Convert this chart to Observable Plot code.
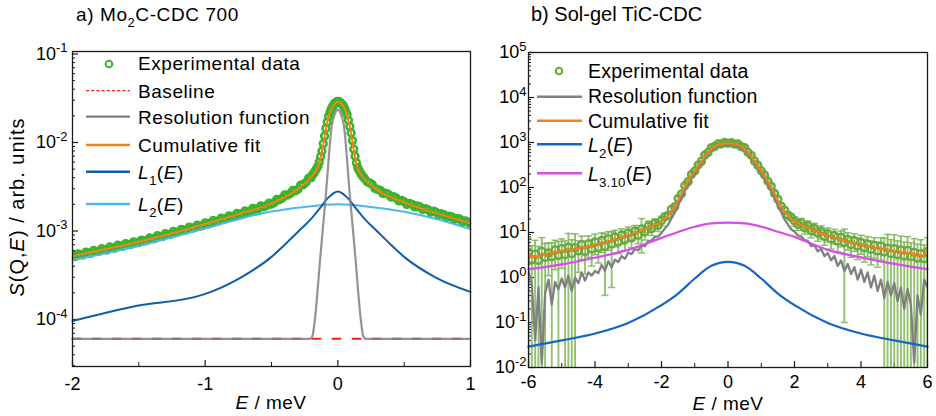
<!DOCTYPE html>
<html><head><meta charset="utf-8">
<script src="https://cdn.jsdelivr.net/npm/d3@7"></script>
<script src="https://cdn.jsdelivr.net/npm/@observablehq/plot@0.6"></script>
<style>
html,body{margin:0;padding:0;background:#fff;}
#wrap{position:relative;width:936px;height:416px;overflow:hidden;background:#fff;}
</style></head><body><div id="wrap"></div>
<script>
// ---------------- Panel a) Mo2C-CDC 700 ----------------
const xTicksA = [-2, -1, 0, 1];
const xMinorA = [-1.5, -0.5, 0.5];
const yTicksA = [1e-4, 1e-3, 1e-2, 1e-1];

const expE_A = [
-2,-1.98,-1.96,-1.94,-1.92,-1.9,-1.88,-1.86,-1.84,-1.82,
-1.8,-1.78,-1.76,-1.74,-1.72,-1.7,-1.68,-1.66,-1.64,-1.62,
-1.6,-1.58,-1.56,-1.54,-1.52,-1.5,-1.48,-1.46,-1.44,-1.42,
-1.4,-1.38,-1.36,-1.34,-1.32,-1.3,-1.28,-1.26,-1.24,-1.22,
-1.2,-1.18,-1.16,-1.14,-1.12,-1.1,-1.08,-1.06,-1.04,-1.02,
-1,-0.98,-0.96,-0.94,-0.92,-0.9,-0.88,-0.86,-0.84,-0.82,
-0.8,-0.78,-0.76,-0.74,-0.72,-0.7,-0.68,-0.66,-0.64,-0.62,
-0.6,-0.58,-0.56,-0.54,-0.52,-0.5,-0.48,-0.46,-0.44,-0.42,
-0.4,-0.38,-0.36,-0.34,-0.32,-0.3,-0.28,-0.26,-0.24,-0.22,
-0.2,
-0.19,-0.18,-0.17,-0.16,-0.15,-0.14,-0.13,-0.12,-0.11,-0.1,
-0.09,-0.08,-0.07,-0.06,-0.05,-0.04,-0.03,-0.02,-0.01,0,
0.01,0.02,0.03,0.04,0.05,0.06,0.07,0.08,0.09,0.1,
0.11,0.12,0.13,0.14,0.15,0.16,0.17,0.18,0.19,
0.2,0.22,0.24,0.26,0.28,0.3,0.32,0.34,0.36,0.38,
0.4,0.42,0.44,0.46,0.48,0.5,0.52,0.54,0.56,0.58,
0.6,0.62,0.64,0.66,0.68,0.7,0.72,0.74,0.76,0.78,
0.8,0.82,0.84,0.86,0.88,0.9,0.92,0.94,0.96,0.98,
1];
const expS_A = [
5.3e-4,5.15e-4,5.5e-4,5.4e-4,5.35e-4,5.75e-4,5.65e-4,5.6e-4,6.05e-4,5.85e-4,
5.9e-4,6.3e-4,6.15e-4,6.1e-4,6.6e-4,6.45e-4,6.4e-4,6.9e-4,6.75e-4,6.7e-4,
7.2e-4,7.0e-4,7.05e-4,7.55e-4,7.35e-4,7.4e-4,7.9e-4,7.7e-4,7.8e-4,8.35e-4,
8.15e-4,8.2e-4,8.85e-4,8.6e-4,8.7e-4,9.35e-4,9.1e-4,9.2e-4,9.9e-4,9.6e-4,
9.75e-4,1.045e-3,1.015e-3,1.03e-3,1.105e-3,1.07e-3,1.09e-3,1.165e-3,1.13e-3,1.15e-3,
1.235e-3,1.2e-3,1.225e-3,1.315e-3,1.275e-3,1.3e-3,1.395e-3,1.355e-3,1.385e-3,1.485e-3,
1.44e-3,1.47e-3,1.58e-3,1.535e-3,1.57e-3,1.685e-3,1.64e-3,1.68e-3,1.8e-3,1.755e-3,
1.79e-3,1.925e-3,1.87e-3,1.92e-3,2.06e-3,2.01e-3,2.09e-3,2.28e-3,2.25e-3,2.34e-3,
2.56e-3,2.54e-3,2.64e-3,2.87e-3,2.84e-3,2.96e-3,3.3e-3,3.34e-3,3.55e-3,3.96e-3,
4.01e-3,
4.35e-3,4.5e-3,4.8e-3,5.05e-3,5.4e-3,6.0e-3,6.9e-3,8.0e-3,9.7e-3,0.0118,
0.0144,0.017,0.0198,0.0218,0.0238,0.0254,0.0268,0.028,0.0288,0.0292,
0.029,0.0282,0.0271,0.0263,0.0245,0.0225,0.0207,0.0178,0.0152,0.0128,
0.0105,8.4e-3,7.0e-3,5.9e-3,5.2e-3,4.85e-3,4.55e-3,4.3e-3,4.1e-3,
3.95e-3,3.6e-3,3.5e-3,3.35e-3,3.02e-3,2.95e-3,2.88e-3,2.66e-3,2.67e-3,2.6e-3,
2.42e-3,2.44e-3,2.36e-3,2.19e-3,2.22e-3,2.14e-3,2.0e-3,2.05e-3,2.0e-3,1.87e-3,
1.92e-3,1.87e-3,1.75e-3,1.79e-3,1.74e-3,1.63e-3,1.68e-3,1.63e-3,1.53e-3,1.57e-3,
1.53e-3,1.43e-3,1.47e-3,1.44e-3,1.35e-3,1.39e-3,1.36e-3,1.27e-3,1.3e-3,1.27e-3,
1.2e-3];

const baseE_A = [-2, 1];
const baseS_A = [6.05e-5, 6.05e-5];

const resE_A = [-2,-0.21,-0.19,-0.175,-0.13,-0.09,-0.045,-0.02,0,0.02,0.045,0.09,0.13,0.175,0.19,0.21,1];
const resS_A = [6.05e-5,6.05e-5,6.6e-5,9.4e-5,5.5e-4,2.6e-3,0.0157,0.0215,0.0235,0.0215,0.0157,2.6e-3,5.5e-4,9.4e-5,6.6e-5,6.05e-5,6.05e-5];

const fitE_A = [-2,-1.5,-1,-0.75,-0.5,-0.3,-0.2,-0.15,-0.12,-0.1,-0.07,-0.04,0,0.04,0.07,0.1,0.12,0.15,0.2,0.3,0.5,0.75,1];
const fitS_A = [5.2e-4,7.55e-4,1.2e-3,1.55e-3,2.05e-3,3.0e-3,4.1e-3,5.3e-3,7.85e-3,0.0116,0.0195,0.025,0.0288,0.026,0.0204,0.0126,8.2e-3,5.1e-3,3.9e-3,2.9e-3,2.1e-3,1.58e-3,1.22e-3];

const l1E_A = [-2,-1.54,-1.01,-0.735,-0.5,-0.4,-0.3,-0.2,-0.13,-0.07,0,0.07,0.13,0.2,0.3,0.4,0.5,0.735,1];
const l1S_A = [9.6e-5,1.4e-4,1.92e-4,2.96e-4,5.1e-4,7.0e-4,9.8e-4,1.38e-3,1.85e-3,2.4e-3,2.8e-3,2.4e-3,1.85e-3,1.38e-3,9.8e-4,7.0e-4,5.1e-4,3.0e-4,2.05e-4];

const l2E_A = [-2,-1.75,-1.5,-1,-0.75,-0.5,-0.25,0,0.25,0.5,0.75,1];
const l2S_A = [4.7e-4,5.6e-4,6.8e-4,1.07e-3,1.36e-3,1.66e-3,1.87e-3,2.0e-3,1.87e-3,1.65e-3,1.36e-3,1.05e-3];

// ---------------- Panel b) Sol-gel TiC-CDC ----------------
const xTicksB = [-6, -4, -2, 0, 2, 4, 6];
const xMinorB = [-5, -3, -1, 1, 3, 5];
const yTicksB = [1e-2, 1e-1, 1e0, 1e1, 1e2, 1e3, 1e4, 1e5];

const energyB = [
-6,-5.9,-5.8,-5.7,-5.6,-5.5,-5.4,-5.3,-5.2,-5.1,
-5,-4.9,-4.8,-4.7,-4.6,-4.5,-4.4,-4.3,-4.2,-4.1,
-4,-3.9,-3.8,-3.7,-3.6,-3.5,-3.4,-3.3,-3.2,-3.1,
-3,-2.9,-2.8,-2.7,-2.6,-2.5,-2.4,-2.3,-2.2,-2.1,
-2,-1.9,-1.8,-1.7,-1.6,-1.5,-1.4,-1.3,-1.2,-1.1,
-1,-0.9,-0.8,-0.7,-0.6,-0.5,-0.4,-0.3,-0.2,-0.1,
0,0.1,0.2,0.3,0.4,0.5,0.6,0.7,0.8,0.9,
1,1.1,1.2,1.3,1.4,1.5,1.6,1.7,1.8,1.9,
2,2.1,2.2,2.3,2.4,2.5,2.6,2.7,2.8,2.9,
3,3.1,3.2,3.3,3.4,3.5,3.6,3.7,3.8,3.9,
4,4.1,4.2,4.3,4.4,4.5,4.6,4.7,4.8,4.9,
5,5.1,5.2,5.3,5.4,5.5,5.6,5.7,5.8,5.9,
6];
const expS_B = [
3.6,2.5,3.3,2.4,3.8,2.8,3.5,2.9,4.1,3.1,
4.4,3.2,4.7,3.4,4.6,3.9,5.4,3.8,5.6,4.3,
6.2,4.6,6.7,4.9,7.2,5.5,8.0,6.1,8.8,6.9,
9.8,7.6,10.8,8.7,12.0,10.3,14.0,12.2,16.0,14.4,
18.5,22.5,24.0,33,37.5,57,72,110,135,195,
232,315,380,525,600,770,815,930,925,1000,
960,990,920,925,810,770,605,520,385,310,
235,190,138,106,74,55,38.5,31.5,24.5,21.8,
18.0,15.0,16.5,12.8,14.2,11.0,12.4,9.6,10.6,8.2,
9.4,7.2,8.6,6.4,7.8,6.0,7.0,5.4,6.6,5.0,
6.0,4.6,5.5,4.2,5.2,3.9,5.0,3.7,4.5,3.4,
4.4,3.2,4.1,3.0,4.0,2.9,3.6,2.7,3.4,2.6,
3.8];
const errS_B = [
3.7,2.6,3.4,2.5,3.9,2.9,2.4,3.0,2.6,3.2,
2.8,3.3,4.8,3.5,4.7,2.6,2.9,2.6,2.8,2.5,
3.0,2.5,3.1,4.5,3.2,4.9,3.2,2.7,3.3,2.9,
3.4,3.0,3.5,3.1,8.5,3.5,3.9,3.6,4.1,3.9,
4.4,3.5,3.8,4.2,4.8,5.5,6.5,7.5,9,10,
12,14,16,18,20,22,23,24,25,25,
25,25,25,24,23,22,20,18,16,14,
12,10,9,7.5,6.5,5.5,4.8,4.2,3.8,3.5,
4.2,3.9,4.0,3.6,3.8,3.4,3.6,3.2,3.4,3.0,
3.2,2.9,3.1,2.7,3.0,5.9,2.9,2.6,2.8,2.5,
2.7,2.4,2.6,2.3,2.5,2.2,2.6,3.8,4.6,3.5,
4.5,3.3,4.2,3.1,4.1,3.0,3.7,2.8,3.5,2.7,
3.9];
const fitS_B = [
3.6,2.67,3.1,2.8,3.45,3.05,3.55,3.3,3.9,3.5,
4.1,3.75,4.45,3.9,4.55,4.25,4.95,4.5,5.15,4.7,
5.55,5.3,6.15,5.65,6.6,6.25,7.45,6.9,8.0,7.7,
9.0,8.45,10.0,9.8,11.5,11.2,13.4,13.4,15.4,15.3,
17.7,20.6,23.0,30,36,52,71,102,133,180,
228,292,378,492,598,727,808,882,918,946,
952,944,921,878,812,722,603,488,383,288,
232,176,137,98,73,50,38,28.5,24,19.8,
17.0,16.2,14.5,14.2,12.6,12.2,10.6,10.6,9.1,9.3,
8.1,8.4,7.3,7.6,6.6,7.0,6.0,6.4,5.5,5.9,
5.0,5.5,4.7,5.1,4.3,4.8,4.1,4.5,3.8,4.3,
3.6,4.1,3.4,3.9,3.2,3.7,3.0,3.6,2.8,3.3,
4.0];
const resS_B = [
1.4,0.7,0.04,0.6,0.012,0.45,0.9,0.25,0.8,0.55,
0.95,0.6,1.1,0.5,1.0,0.75,1.3,0.85,1.3,1.1,
1.4,1.25,1.9,1.4,2.3,1.7,2.5,2.2,3.0,2.6,
3.6,3.3,4.3,4.0,5.2,5.0,6.4,6.6,8.0,8.2,
9.8,12.2,14.8,20.5,27.5,40.5,59,85,117,159,
209,271,354,461,564,681,764,836,874,899,
905,897,876,834,766,679,566,459,356,269,
211,157,119,83,61,39.5,28.5,19.5,15.2,11.8,
10.5,8.6,8.2,6.8,6.5,5.0,5.3,3.8,4.3,3.0,
3.5,2.4,3.0,1.8,2.4,1.4,2.0,1.2,1.7,0.9,
1.5,0.8,1.3,0.6,1.1,0.5,0.9,0.35,0.8,0.4,
0.75,0.3,0.6,0.2,0.55,0.25,0.013,0.4,0.15,0.9,
0.6];

const l2E_B = [-6,-5,-4,-3,-2,-1.5,-1,-0.5,0,0.5,1,1.5,2,3,4,5,6];
const l2S_B = [0.029,0.040,0.057,0.098,0.243,0.44,0.95,1.82,2.23,1.82,0.95,0.44,0.243,0.098,0.057,0.040,0.029];
const l3E_B = [-6,-5,-4,-3,-2,-1.5,-1,-0.5,0,0.5,1,1.5,2,3,4,5,6];
const l3S_B = [1.53,1.95,2.75,4.1,7.6,10.3,13.4,15.9,16.5,15.9,13.4,10.4,8.0,4.1,2.8,2.0,1.53];

// ---------------- helpers ----------------
const FONT = '"Liberation Sans", Arial, Helvetica, sans-serif';
const zip = (X, Y) => X.map((E, i) => ({E, S: Y[i]}));
const supFmt = d => "10^" + Math.round(Math.log10(d));
function minorLog(lo, hi) {
  const out = [];
  for (let e = Math.floor(Math.log10(lo)); e <= Math.ceil(Math.log10(hi)); e++)
    for (let k = 2; k <= 9; k++) { const v = k * Math.pow(10, e); if (v >= lo && v <= hi) out.push(v); }
  return out;
}
const capSym = {draw(ctx, size) { const w = Math.sqrt(size / Math.PI); ctx.moveTo(-w, 0); ctx.lineTo(w, 0); }};
function fixSup(svg, size) {
  d3.select(svg).selectAll("text").each(function () {
    const m = /^10\^(-?\d+)$/.exec(this.textContent);
    if (m) {
      const t = d3.select(this);
      t.text("10");
      t.append("tspan").attr("font-size", size).attr("dy", -7.5).text(m[1]);
    }
  });
}
const wrap = document.getElementById("wrap");
function place(svg, left) {
  svg.style.position = "absolute"; svg.style.left = left + "px"; svg.style.top = "0px";
  wrap.appendChild(svg);
}
const axisCol = "#1a1a1a";

// ---------------- left plot ----------------
const A = {W: 480, H: 416, ml: 72, mr: 10, mt: 51, mb: 50};
const pwA = A.W - A.ml - A.mr, phA = A.H - A.mt - A.mb;
const yDomA = [Math.pow(10, -4.531), Math.pow(10, -0.972)];
const greenA = "rgb(58,180,44)";

const plotA = Plot.plot({
  width: A.W, height: A.H, marginLeft: A.ml, marginRight: A.mr, marginTop: A.mt, marginBottom: A.mb,
  style: {fontFamily: FONT, fontSize: "18px", color: "#000", background: "transparent", overflow: "visible"},
  x: {domain: [-2, 1], ticks: xTicksA, tickSize: 0, tickPadding: 11, tickFormat: d => String(d), label: null},
  y: {type: "log", domain: yDomA, ticks: yTicksA, tickSize: 0, tickPadding: 5, tickFormat: supFmt, label: null},
  marks: [
    Plot.tickY(yTicksA, {y: d => d, insetRight: pwA - 6, stroke: axisCol, strokeWidth: 1.2}),
    Plot.tickY(minorLog(yDomA[0], yDomA[1]), {y: d => d, insetRight: pwA - 3, stroke: axisCol, strokeWidth: 1}),
    Plot.tickX(xTicksA, {x: d => d, insetTop: phA - 6, stroke: axisCol, strokeWidth: 1.2}),
    Plot.tickX(xMinorA, {x: d => d, insetTop: phA - 4, stroke: axisCol, strokeWidth: 1}),
    Plot.dot(zip(expE_A, expS_A), {x: "E", y: "S", r: 3.4, stroke: greenA, strokeWidth: 2.5, fill: "none", clip: true}),
    Plot.line(zip(l2E_A, l2S_A), {x: "E", y: "S", stroke: "#4fb5f2", strokeWidth: 2, curve: "monotone-x"}),
    Plot.line(zip(l1E_A, l1S_A), {x: "E", y: "S", stroke: "#0f5fa4", strokeWidth: 2, curve: "monotone-x"}),
    Plot.line(zip(baseE_A, baseS_A), {x: "E", y: "S", stroke: "#ff1a1a", strokeWidth: 2, strokeDasharray: "8,12"}),
    Plot.line(zip(resE_A, resS_A), {x: "E", y: "S", stroke: "#808080", strokeWidth: 2.2, strokeOpacity: 0.85, curve: "monotone-x"}),
    Plot.line(zip(fitE_A, fitS_A), {x: "E", y: "S", stroke: "#f7801e", strokeWidth: 2, curve: "monotone-x"}),
    Plot.frame({stroke: axisCol, strokeWidth: 1.3})
  ]
});
fixSup(plotA, 13);
place(plotA, 0);

// ---------------- right plot ----------------
const B = {W: 456, H: 416, ml: 48, mr: 9, mt: 52, mb: 49};
const pwB = B.W - B.ml - B.mr, phB = B.H - B.mt - B.mb;
const yDomB = [1e-2, 1e5];
const greenB = "rgb(104,168,60)";
const errCol = "rgba(118,178,78,0.8)";
const expB = energyB.map((E, i) => ({E, S: expS_B[i], lo: Math.max(expS_B[i] - errS_B[i], 0.004), hi: expS_B[i] + errS_B[i]}));

const plotB = Plot.plot({
  width: B.W, height: B.H, marginLeft: B.ml, marginRight: B.mr, marginTop: B.mt, marginBottom: B.mb,
  style: {fontFamily: FONT, fontSize: "18px", color: "#000", background: "transparent", overflow: "visible"},
  x: {domain: [-6, 6], ticks: xTicksB, tickSize: 0, tickPadding: 8, tickFormat: d => String(d), label: null},
  y: {type: "log", domain: yDomB, ticks: yTicksB, tickSize: 0, tickPadding: 2, tickFormat: supFmt, label: null},
  marks: [
    Plot.tickY(yTicksB, {y: d => d, insetRight: pwB - 6, stroke: axisCol, strokeWidth: 1.2}),
    Plot.tickY(minorLog(yDomB[0], yDomB[1]), {y: d => d, insetRight: pwB - 3, stroke: axisCol, strokeWidth: 1}),
    Plot.tickX(xTicksB, {x: d => d, insetTop: phB - 6, stroke: axisCol, strokeWidth: 1.2}),
    Plot.tickX(xMinorB, {x: d => d, insetTop: phB - 4, stroke: axisCol, strokeWidth: 1}),
    Plot.ruleX(expB, {x: "E", y1: "lo", y2: "hi", stroke: errCol, strokeWidth: 1.9, clip: true}),
    Plot.dot(expB, {x: "E", y: "hi", symbol: capSym, r: 3.6, stroke: errCol, strokeWidth: 1.5, fill: "none", clip: true}),
    Plot.dot(expB.filter(d => d.lo > 0.011), {x: "E", y: "lo", symbol: capSym, r: 3.6, stroke: errCol, strokeWidth: 1.5, fill: "none", clip: true}),
    Plot.dot(expB, {x: "E", y: "S", r: 3.5, stroke: greenB, strokeWidth: 2.3, fill: "none", clip: true}),
    Plot.line(zip(energyB, resS_B), {x: "E", y: "S", stroke: "#808080", strokeWidth: 2.3, clip: true}),
    Plot.line(zip(energyB, fitS_B), {x: "E", y: "S", stroke: "#f5801f", strokeWidth: 2, clip: true}),
    Plot.line(zip(l2E_B, l2S_B), {x: "E", y: "S", stroke: "#1565c8", strokeWidth: 2.2, curve: "monotone-x"}),
    Plot.line(zip(l3E_B, l3S_B), {x: "E", y: "S", stroke: "#d84ce8", strokeWidth: 2.2, curve: "monotone-x"}),
    Plot.frame({stroke: axisCol, strokeWidth: 1.3})
  ]
});
fixSup(plotB, 13);
place(plotB, 480);

// ---------------- overlay: titles, legends, axis labels ----------------
const ov = d3.create("svg").attr("width", 936).attr("height", 416)
  .style("position", "absolute").style("left", "0px").style("top", "0px")
  .style("font-family", FONT).style("pointer-events", "none");

function rich(x, y, parts, o) {
  const t = ov.append("text").attr("x", x).attr("y", y).attr("font-size", o.size).attr("fill", "#000");
  if (o.ls) t.attr("letter-spacing", o.ls);
  if (o.anchor) t.attr("text-anchor", o.anchor);
  if (o.transform) t.attr("transform", o.transform).attr("x", 0).attr("y", 0);
  let shift = 0;
  for (const [s, kind = ""] of parts) {
    const ts = t.append("tspan").text(s);
    if (kind.includes("i")) ts.attr("font-style", "italic");
    const sub = kind.includes("sub");
    const want = sub ? o.size * 0.32 : 0;
    if (want !== shift) { ts.attr("dy", want - shift); shift = want; }
    if (sub) ts.attr("font-size", o.size * 0.68);
  }
  return t;
}
function sample(x1, x2, y, color, w, dash) {
  const l = ov.append("line").attr("x1", x1).attr("x2", x2).attr("y1", y).attr("y2", y)
    .attr("stroke", color).attr("stroke-width", w);
  if (dash) l.attr("stroke-dasharray", dash);
}
function ring(x, y, color) {
  ov.append("circle").attr("cx", x).attr("cy", y).attr("r", 3.3).attr("fill", "none")
    .attr("stroke", color).attr("stroke-width", 2);
}

// titles
rich(76, 21, [["a) Mo"], ["2", "sub"], ["C-CDC 700"]], {size: 19, ls: 0.6});
rich(531, 21, [["b) Sol-gel TiC-CDC"]], {size: 20});

// y label
rich(0, 0, [["S", "i"], ["(Q,"], ["E", "i"], [") / arb. units"]], {size: 20, ls: 1, anchor: "middle", transform: "translate(24,207) rotate(-90)"});

// x labels
rich(271, 409, [["E", "i"], [" / meV"]], {size: 19, ls: 0.5, anchor: "middle"});
rich(728, 410, [["E", "i"], [" / meV"]], {size: 19, ls: 0.5, anchor: "middle"});

// left legend
const LA = {x1: 86, x2: 130, tx: 138, o: {size: 19, ls: 0.55}};
ring(109, 64, greenA);
rich(LA.tx, 69.5, [["Experimental data"]], LA.o);
sample(LA.x1, LA.x2, 90.7, "#ff1a1a", 1.3, "3,2.2");
rich(LA.tx, 98, [["Baseline"]], LA.o);
sample(LA.x1, LA.x2, 116.7, "#808080", 2.2);
rich(LA.tx, 124, [["Resolution function"]], LA.o);
sample(LA.x1, LA.x2, 145, "#f7801e", 2.5);
rich(LA.tx, 152, [["Cumulative fit"]], LA.o);
sample(LA.x1, LA.x2, 171.7, "#0f5fa4", 2.5);
rich(LA.tx, 178.5, [["L", "i"], ["1", "sub"], ["("], ["E", "i"], [")"]], LA.o);
sample(LA.x1, LA.x2, 204, "#4fb5f2", 2.5);
rich(LA.tx, 210.5, [["L", "i"], ["2", "sub"], ["("], ["E", "i"], [")"]], LA.o);

// right legend
const LB = {x1: 537, x2: 582, tx: 588, o: {size: 19.5, ls: 0.2}};
ring(559, 71, greenB);
rich(LB.tx, 77.7, [["Experimental data"]], LB.o);
sample(LB.x1, LB.x2, 96.7, "#808080", 2.5);
rich(LB.tx, 102.5, [["Resolution function"]], LB.o);
sample(LB.x1, LB.x2, 120.7, "#f5801f", 2.5);
rich(LB.tx, 127.5, [["Cumulative fit"]], LB.o);
sample(LB.x1, LB.x2, 144.3, "#1565c8", 2.5);
rich(LB.tx, 152, [["L", "i"], ["2", "sub"], ["("], ["E", "i"], [")"]], LB.o);
sample(LB.x1, LB.x2, 173.3, "#d84ce8", 2.5);
rich(LB.tx, 181, [["L", "i"], ["3.10", "sub"], ["("], ["E", "i"], [")"]], LB.o);

wrap.appendChild(ov.node());
</script></body></html>
